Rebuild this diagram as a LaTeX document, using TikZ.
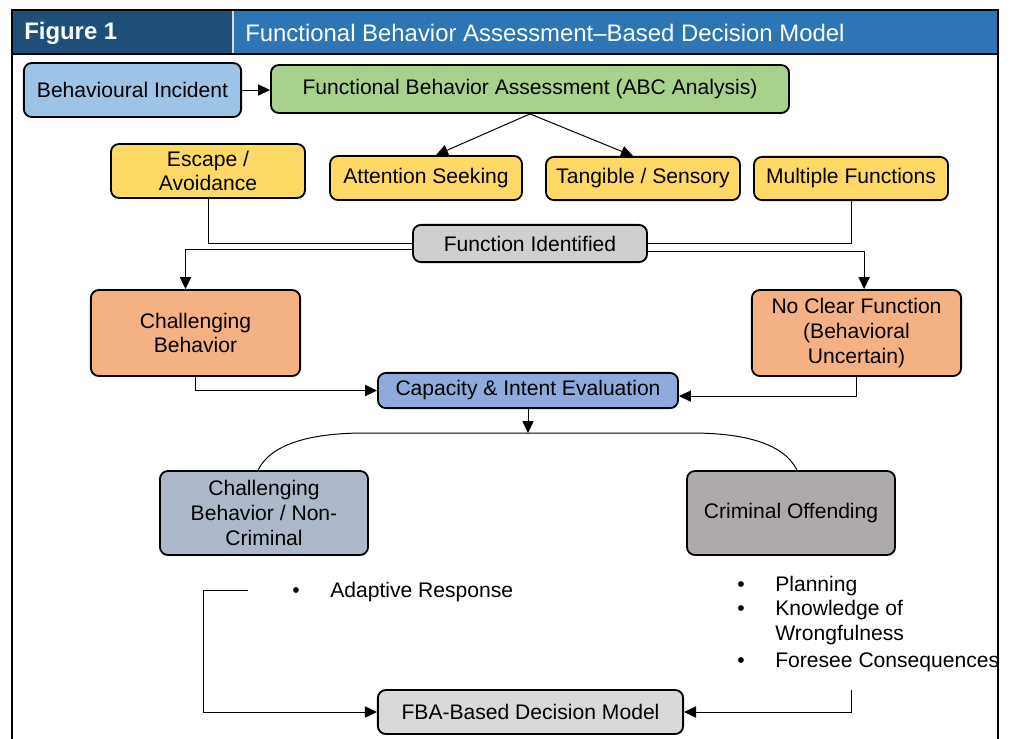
\documentclass[tikz,border=0pt]{standalone}
\usepackage{fontspec}
\setmainfont{Liberation Sans}
\usepackage{xcolor}
\usepackage{tikz}
\usetikzlibrary{arrows.meta}

\definecolor{hdrDark}{HTML}{1F4E79}
\definecolor{hdrBlue}{HTML}{2E75B6}
\definecolor{incBlue}{HTML}{9DC3E6}
\definecolor{fbaGreen}{HTML}{A9D18E}
\definecolor{fnYellow}{HTML}{FFD966}
\definecolor{idGray}{HTML}{D0CECE}
\definecolor{chOrange}{HTML}{F4B183}
\definecolor{evBlue}{HTML}{8FAADC}
\definecolor{ncSlate}{HTML}{ADB9CA}
\definecolor{crGray}{HTML}{AEAAAA}
\definecolor{dmGray}{HTML}{D9D9D9}

\begin{document}
\begin{tikzpicture}[x=0.025cm, y=-0.025cm,
    box/.style={draw, line width=1.3pt, rounded corners=0.2cm, align=center, inner sep=2pt, font=\fontsize{15}{17.5}\selectfont},
    arr/.style={-{Triangle[length=3mm, width=2.8mm]}, line width=0.7pt},
    lnk/.style={line width=0.7pt}]
        \useasboundingbox (0,0) rectangle (1010,738);
        \clip (0,0) rectangle (1010,738);

        \fill[hdrDark] (12,10) rectangle (233,54);
        \fill[hdrBlue] (233,10) rectangle (998,54);
        \draw[white!70!gray, line width=0.8pt] (233,10) -- (233,54);
        \draw[line width=1pt] (12,54) -- (998,54);
        \draw[line width=1.4pt] (12,10) rectangle (998,760);
        \node[font=\bfseries\fontsize{17}{20}\selectfont, text=white, anchor=west, inner sep=0] (figno) at (24,33) {Figure 1};
        \node[font=\fontsize{17}{20}\selectfont, text=white, anchor=west, inner sep=0] (figttl) at (245,33) {Functional Behavior Assessment–Based Decision Model};

        \node[box, fill=incBlue, minimum width=5.43cm, minimum height=1.35cm] (inc) at (132.5,90) {Behavioural Incident};
        \node[box, fill=fbaGreen, minimum width=12.95cm, minimum height=1.2cm] (fba) at (530,89) {Functional Behavior Assessment (ABC Analysis)};
        \node[box, fill=fnYellow, minimum width=4.85cm, minimum height=1.35cm] (esc) at (208,171) {Escape /\\Avoidance};
        \node[box, fill=fnYellow, minimum width=4.8cm, minimum height=1.1cm] (att) at (426,178) {Attention Seeking};
        \node[box, fill=fnYellow, minimum width=4.85cm, minimum height=1.08cm] (tan) at (643,178.5) {Tangible / Sensory};
        \node[box, fill=fnYellow, minimum width=4.85cm, minimum height=1.08cm] (mul) at (851,178.5) {Multiple Functions};
        \node[box, fill=idGray, minimum width=5.85cm, minimum height=0.93cm] (fid) at (530,243.5) {Function Identified};
        \node[box, fill=chOrange, minimum width=5.23cm, minimum height=2.15cm] (chb) at (195.5,333) {Challenging\\Behavior};
        \node[box, fill=chOrange, minimum width=5.23cm, minimum height=2.15cm] (ncf) at (856.5,333) {No Clear Function\\(Behavioral\\Uncertain)};
        \node[box, fill=evBlue, minimum width=7.5cm, minimum height=0.88cm] (cie) at (528,390.5) {Capacity \& Intent Evaluation};
        \node[box, fill=ncSlate, minimum width=5.2cm, minimum height=2.1cm] (ncr) at (264,513) {Challenging\\Behavior / Non-\\Criminal};
        \node[box, fill=crGray, minimum width=5.2cm, minimum height=2.1cm] (cri) at (791,513) {Criminal Offending};
        \node[box, fill=dmGray, minimum width=7.63cm, minimum height=1.1cm] (dec) at (530.5,712) {FBA-Based Decision Model};

        \node[font=\fontsize{15}{17.5}\selectfont, anchor=base west, inner sep=0] (adp) at (292,597) {\makebox[0.95cm][l]{\textbullet}Adaptive Response};
        \node[font=\fontsize{15}{17.5}\selectfont, anchor=base west, inner sep=0] (crm) at (737,591)
            {\begin{tabular}[t]{@{}p{0.95cm}@{}l@{}}
             \textbullet & Planning\\
             \textbullet & Knowledge of\\
                         & Wrongfulness\\[2pt]
             \textbullet & Foresee Consequences
             \end{tabular}};

        \coordinate (split) at (528,433);
        \coordinate (archL) at (365,433);
        \coordinate (archR) at (691,433);
        \coordinate (adpL) at (248,590);
        \coordinate (adpC) at (203,590);
        \coordinate (crmE) at (851,690);

        \draw[arr] (inc.east) -- (inc.east -| fba.west);
        \draw[arr] (fba.south) -- ([xshift=0.25cm]att.north);
        \draw[arr] (fba.south) -- ([xshift=-0.25cm]tan.north);
        \draw[lnk] (esc.south) |- (fid.west);
        \draw[lnk] (mul.south) |- (fid.east);
        \draw[arr] ([yshift=-0.15cm]fid.west) -| ([xshift=-0.25cm]chb.north);
        \draw[arr] ([yshift=-0.2cm]fid.east) -| ([xshift=0.19cm]ncf.north);
        \draw[arr] (chb.south) |- (cie.west);
        \draw[arr] (ncf.south) |- ([yshift=-0.14cm]cie.east);
        \draw[arr] (cie.south) -- (split);
        \draw[lnk] ([xshift=-0.15cm]ncr.north) .. controls +(14,-28) and +(-50,0) .. (archL) -- (archR) .. controls +(50,0) and +(-14,-28) .. ([xshift=0.15cm]cri.north);
        \draw[arr] (adpL) -- (adpC) |- (dec.west);
        \draw[arr] (crmE) |- (dec.east);
    \end{tikzpicture}
\end{document}
